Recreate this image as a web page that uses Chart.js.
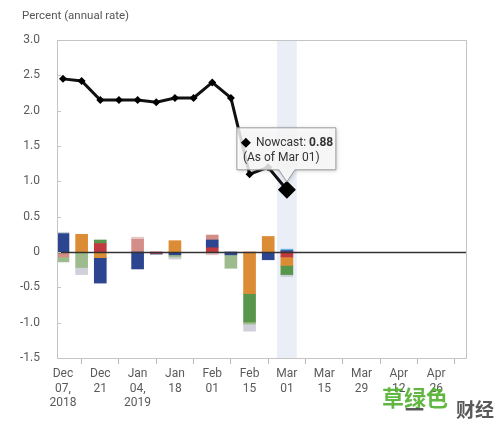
<!DOCTYPE html>
<html><head><meta charset="utf-8">
<script src="https://cdn.jsdelivr.net/npm/chart.js@4/dist/chart.umd.min.js"></script>
<style>html,body{margin:0;padding:0;background:#fff;}#wrap{position:relative;width:500px;height:432px;}</style>
</head><body><div id="wrap"><canvas id="c" width="500" height="432"></canvas></div>
<script>
// weekly release dates (index 0 = Dec 07, 2018)
const weeks = ["Dec 07","Dec 14","Dec 21","Dec 28","Jan 04","Jan 11","Jan 18","Jan 25","Feb 01","Feb 08","Feb 15","Feb 22","Mar 01"];
const xTickLabels = [["Dec","07,","2018"],["Dec","21"],["Jan","04,","2019"],["Jan","18"],["Feb","01"],["Feb","15"],["Mar","01"],["Mar","15"],["Mar","29"],["Apr","12"],["Apr","26"]];
const yTicks = [3.0,2.5,2.0,1.5,1.0,0.5,0,-0.5,-1.0,-1.5];
// nowcast line
const nowcast = [2.45,2.42,2.15,2.15,2.15,2.12,2.18,2.18,2.40,2.18,1.10,1.20,0.88];
// news contributions (stacked bars)
const catRed        = [null,null,0.12,null,null,-0.02,null,null,0.06,null,null,null,-0.07];
const catOrange     = [null,0.25,-0.08,null,null,null,0.16,null,null,null,-0.59,0.22,-0.12];
const catBlue       = [0.26,null,-0.36,null,-0.24,-0.01,-0.04,null,0.11,-0.04,null,-0.11,0.02];
const catGreen      = [null,null,0.05,null,null,null,null,null,null,null,-0.40,null,-0.13];
const catPink       = [-0.07,null,null,null,0.18,null,null,null,0.07,null,null,null,null];
const catLightPink  = [null,null,null,null,0.03,null,null,null,-0.04,null,null,null,null];
const catLightGreen = [-0.07,-0.22,null,null,null,null,-0.03,null,null,-0.19,-0.03,null,null];
const catLightGray  = [0.02,-0.10,null,null,null,null,-0.03,null,null,null,-0.10,null,-0.03];
const catLightBlue  = [null,null,null,null,null,null,null,null,null,null,null,null,0.02];
const tipLabel = "Nowcast: ";
const tipValue = "0.88";
const tipDate = "(As of Mar 01)";
const yTitle = "Percent (annual rate)";

const toXY = arr => arr.map((v,i)=>({x:i,y:v})).filter(p=>p.y!==null);
const barSets = [
  ["Housing and construction", catRed, "#c0393f"],
  ["Manufacturing", catOrange, "#dd8c36"],
  ["Labor", catBlue, "#2c4590"],
  ["Surveys", catGreen, "#57964b"],
  ["Income", catPink, "#d38f87"],
  ["Retail and consumption", catLightPink, "#e6c7c9"],
  ["International trade", catLightGreen, "#9dbb8d"],
  ["Others", catLightGray, "#cfd0da"],
  ["Prices", catLightBlue, "#62b3e3"]
].map(([label,arr,color])=>({type:'bar',label,data:toXY(arr),backgroundColor:color,borderWidth:0,barThickness:12,stack:'news',order:1}));

const F = 'Roboto, "Liberation Sans", sans-serif';
const lastIdx = nowcast.length-1;

const decor = {
  id:'decor',
  beforeDatasetsDraw(chart){
    const {ctx, chartArea:a, scales:{x}} = chart;
    const l = x.getPixelForValue(lastIdx-0.53), r = x.getPixelForValue(lastIdx+0.53);
    ctx.save(); ctx.fillStyle='#eaeff7'; ctx.fillRect(l,a.top,r-l,a.bottom-a.top); ctx.restore();
  },
  afterDatasetsDraw(chart){
    const {ctx, chartArea:a, scales:{x,y}} = chart;
    ctx.save();
    const y0 = Math.round(y.getPixelForValue(0))+0.5;
    ctx.strokeStyle='#333'; ctx.lineWidth=1.3;
    ctx.beginPath(); ctx.moveTo(a.left,y0); ctx.lineTo(a.right,y0); ctx.stroke();
    ctx.strokeStyle='#c4c4c4'; ctx.lineWidth=1;
    ctx.strokeRect(Math.round(a.left)+0.5,Math.round(a.top)+0.5,Math.round(a.right-a.left),Math.round(a.bottom-a.top));
    ctx.beginPath();
    yTicks.forEach(v=>{const p=Math.round(y.getPixelForValue(v))+0.5; ctx.moveTo(a.left,p); ctx.lineTo(a.left+4,p);});
    ctx.stroke();
    ctx.restore();
  },
  afterDraw(chart){
    const {ctx} = chart;
    ctx.save();
    ctx.fillStyle='#555'; ctx.font='11.5px '+F; ctx.textBaseline='middle'; ctx.textAlign='left';
    ctx.fillText(yTitle,22,16);
    const meta = chart.getDatasetMeta(chart.data.datasets.length-1);
    const pt = meta.data[lastIdx];
    const px = pt.x, py = pt.y;
    const x0 = px-50, x1 = px+49, y0 = py-62, y1 = py-20;
    const path = () => {ctx.beginPath();
      ctx.moveTo(x0,y0); ctx.lineTo(x1,y0); ctx.lineTo(x1,y1); ctx.lineTo(px+8,y1); ctx.lineTo(px,y1+12); ctx.lineTo(px-8,y1); ctx.lineTo(x0,y1); ctx.closePath();};
    ctx.save();
    ctx.shadowColor='rgba(0,0,0,0.25)'; ctx.shadowBlur=4; ctx.shadowOffsetX=1; ctx.shadowOffsetY=1;
    path(); ctx.fillStyle='rgba(255,255,255,0.82)'; ctx.fill();
    ctx.restore();
    ctx.strokeStyle='#9a9a9a'; ctx.lineWidth=1; path(); ctx.stroke();
    const dx=x0+9, dy=y0+15;
    ctx.fillStyle='#000'; ctx.beginPath(); ctx.moveTo(dx,dy-5); ctx.lineTo(dx+5,dy); ctx.lineTo(dx,dy+5); ctx.lineTo(dx-5,dy); ctx.closePath(); ctx.fill();
    ctx.fillStyle='#333'; ctx.font='12px '+F; ctx.textBaseline='middle';
    ctx.fillText(tipLabel,x0+19,dy);
    const w = ctx.measureText(tipLabel).width;
    ctx.font='bold 12px '+F; ctx.fillText(tipValue,x0+19+w,dy);
    ctx.font='12px '+F; ctx.fillText(tipDate,x0+6,y0+30);
    ctx.font='bold 22px "Noto Sans CJK SC"'; ctx.fillStyle='rgba(80,175,45,0.9)';
    ctx.fillText('草绿色',382,398);
    ctx.font='bold 19px "Noto Sans CJK SC"'; ctx.fillStyle='rgba(60,60,60,0.85)';
    ctx.fillText('一',405,410);
    ctx.fillText('财经',456,410);
    ctx.restore();
  }
};

new Chart(document.getElementById('c'),{
  type:'bar',
  data:{datasets:[...barSets,{
    type:'line',label:'Nowcast',data:toXY(nowcast),stack:'nowcast',order:0,
    borderColor:'#111',borderWidth:3,tension:0,
    pointStyle:'rectRot',pointRadius:c=>c.dataIndex===lastIdx?9:4,
    pointBackgroundColor:'#000',pointBorderColor:'#000',pointBorderWidth:0
  }]},
  options:{
    responsive:false,animation:false,devicePixelRatio:1,
    layout:{padding:{top:40,right:34,left:0,bottom:0}},
    plugins:{legend:{display:false},tooltip:{enabled:false},title:{display:false}},
    scales:{
      x:{type:'linear',min:-0.32,max:21.6,offset:false,stacked:true,
        afterBuildTicks:s=>{s.ticks=xTickLabels.map((_,i)=>({value:i*2}));},
        afterFit:s=>{s.height=74;},
        ticks:{callback:v=>xTickLabels[Math.round(v/2)],color:'#5a5a5a',font:{family:F,size:12},padding:3,maxRotation:0,autoSkip:false},
        grid:{drawOnChartArea:false,drawTicks:true,tickLength:6,color:'#bdbdbd'},
        border:{display:false}
      },
      y:{stacked:true,min:-1.5,max:3,
        afterBuildTicks:s=>{s.ticks=yTicks.map(v=>({value:v}));},
        afterFit:s=>{s.width=57;},
        ticks:{callback:v=>v===0?'0':v.toFixed(1),color:'#5a5a5a',font:{family:F,size:12},padding:17},
        grid:{display:false,drawTicks:false},border:{display:false}
      }
    }
  },
  plugins:[decor]
});
</script></body></html>
